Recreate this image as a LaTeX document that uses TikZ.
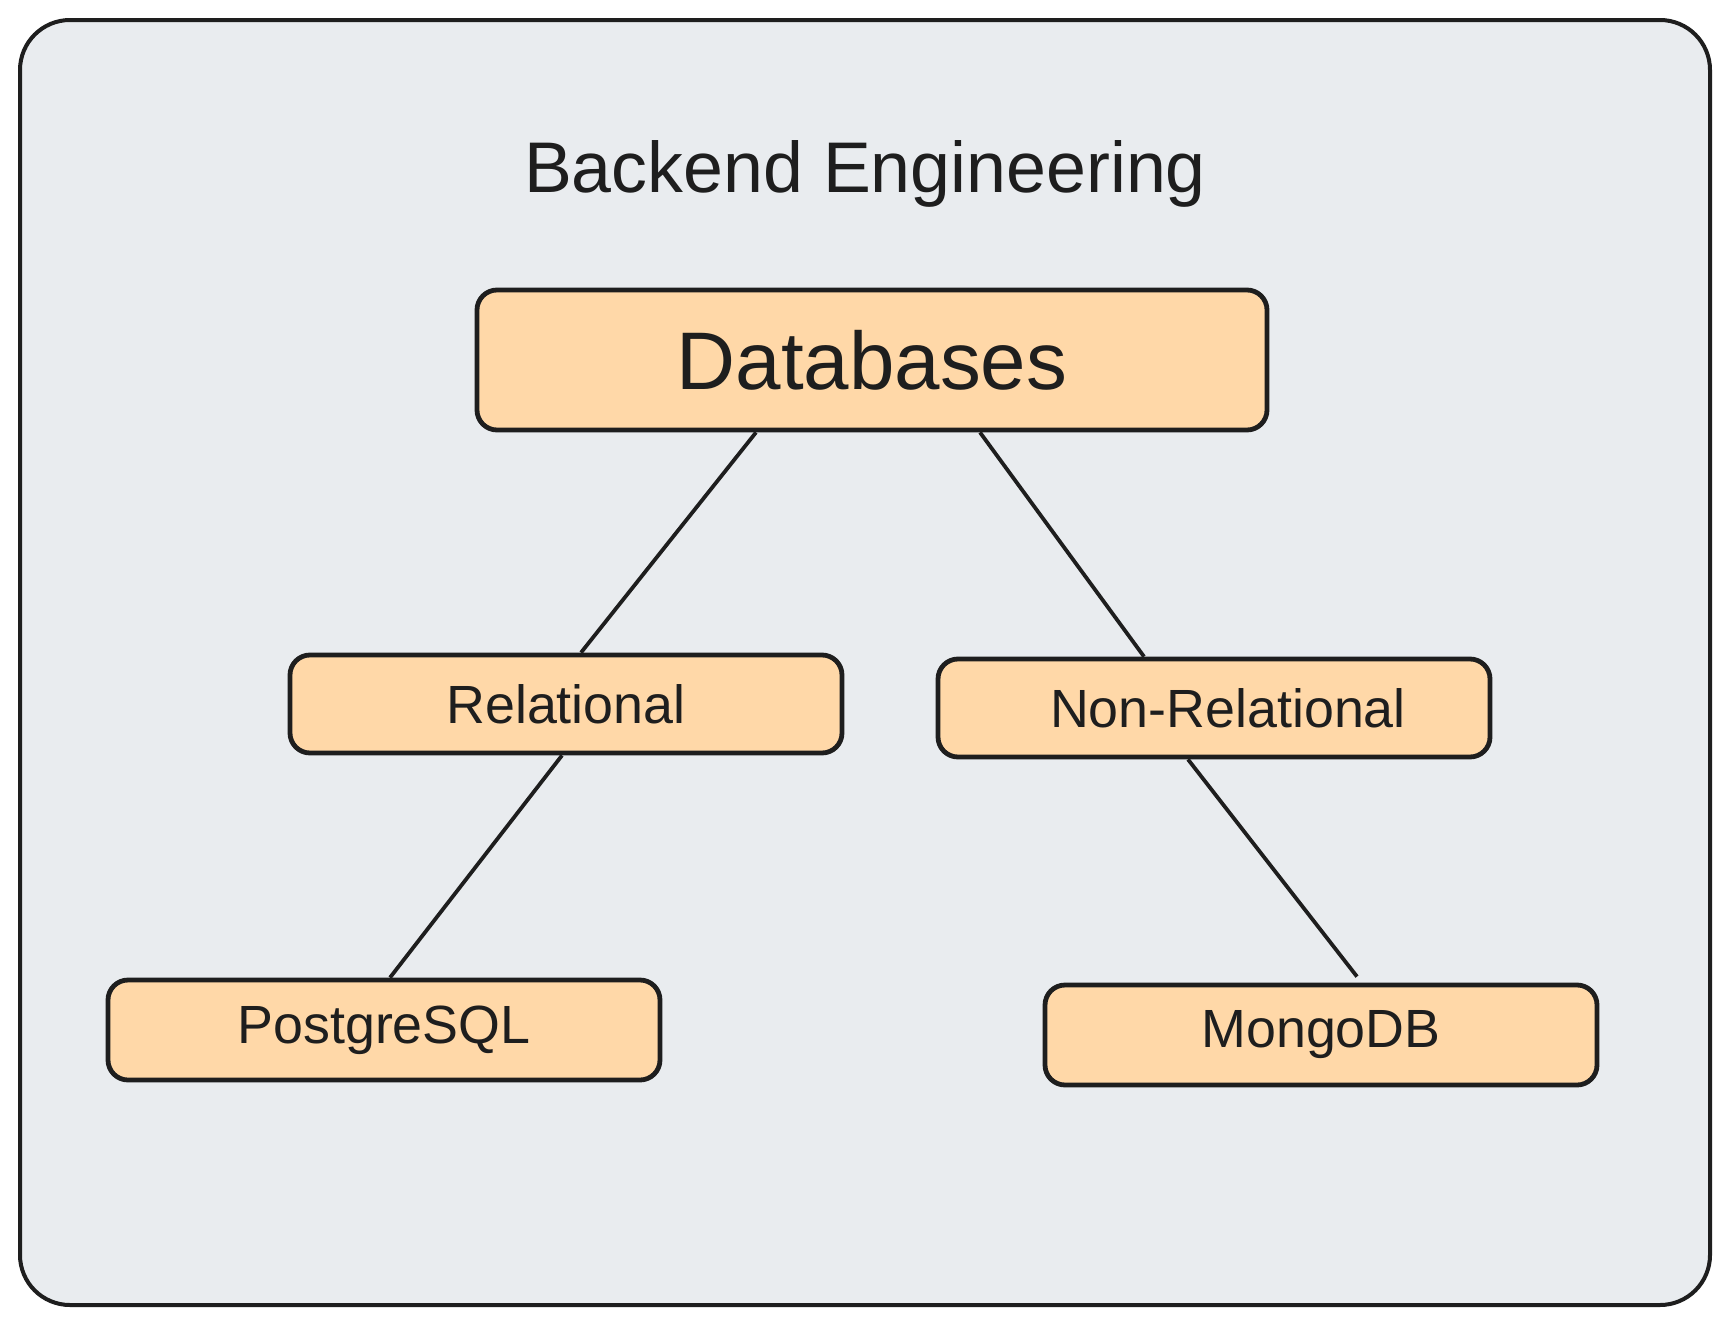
\documentclass[tikz,border=0pt]{standalone}
\usepackage{fontspec}
\setmainfont{Liberation Sans}
\usepackage{xcolor}
\usepackage{tikz}
\definecolor{pale}{HTML}{E9ECEF}
\definecolor{peach}{HTML}{FFD8A8}
\definecolor{ink}{HTML}{1E1E1E}

\begin{document}
\begin{tikzpicture}[
    dbbox/.style={draw=ink,line width=2.4bp,rounded corners=10bp,fill=peach,text=ink,inner sep=0pt,minimum width=276bp,minimum height=49bp,font=\fontsize{27}{32}\selectfont},
    link/.style={draw=ink,line width=1.9bp}]
    \useasboundingbox (0,0) rectangle (865bp,-663bp);
    \fill[white] (0,0) rectangle (865bp,-663bp);
    \draw[ink,fill=pale,line width=2bp,rounded corners=25bp] (10bp,-10bp) rectangle (855bp,-652.5bp);
    \node (TITLE) at (432.5bp,-87bp)[text=ink,inner sep=0pt,font=\fontsize{36}{42}\selectfont] {Backend Engineering};
    \node (DB) at (436bp,-180bp)[dbbox,minimum width=395bp,minimum height=70bp,font=\fontsize{41}{48}\selectfont] {Databases};
    \node (REL) at (283bp,-352bp)[dbbox] {Relational};
    \node (NREL) at (607bp,-354bp)[dbbox] {\hspace{14bp}Non-Relational};
    \node (PG) at (192bp,-515bp)[dbbox,minimum height=50bp] {PostgreSQL};
    \node (MONGO) at (660.5bp,-517.5bp)[dbbox,minimum height=50bp] {MongoDB};
    \draw [link] ([xshift=-58bp]DB.south) to ([xshift=7.5bp]REL.north);
    \draw [link] ([xshift=54bp]DB.south) to ([xshift=-35bp]NREL.north);
    \draw [link] ([xshift=-2bp]REL.south) to ([xshift=3bp]PG.north);
    \draw [link] ([xshift=-13bp]NREL.south) to ([xshift=18bp,yshift=3bp]MONGO.north);
\end{tikzpicture}
\end{document}
